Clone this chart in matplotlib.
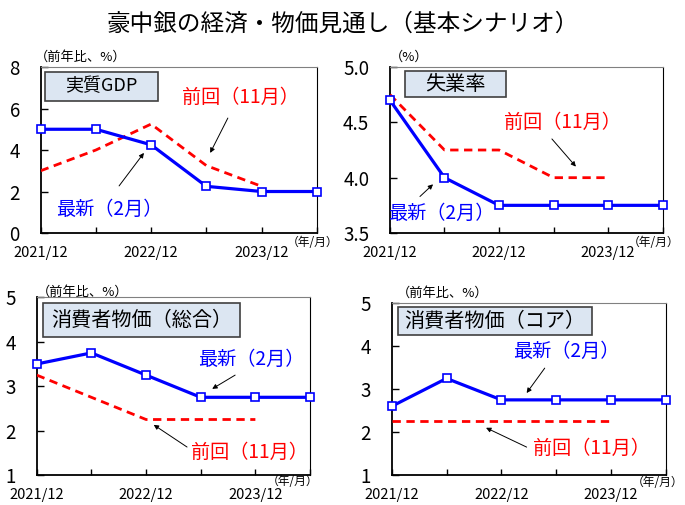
import matplotlib
matplotlib.use("Agg")
import matplotlib.pyplot as plt
from matplotlib.patches import Rectangle

plt.rcParams["font.family"] = ["Noto Sans CJK JP", "DejaVu Sans"]

periods = ["2021/12", "2022/6", "2022/12", "2023/6", "2023/12", "2024/6"]
tick_labels = ["2021/12", "", "2022/12", "", "2023/12", ""]

gdp_latest = [5.0, 5.0, 4.25, 2.25, 2.0, 2.0]
gdp_prev = [3.0, 4.0, 5.25, 3.25, 2.25]

unemp_latest = [4.7, 4.0, 3.75, 3.75, 3.75, 3.75]
unemp_prev = [4.75, 4.25, 4.25, 4.0, 4.0]

cpi_latest = [3.5, 3.75, 3.25, 2.75, 2.75, 2.75]
cpi_prev = [3.25, 2.75, 2.25, 2.25, 2.25]

core_latest = [2.6, 3.25, 2.75, 2.75, 2.75, 2.75]
core_prev = [2.25, 2.25, 2.25, 2.25, 2.25]

BLUE = "#0000ff"
RED = "#ff0000"

fig = plt.figure(figsize=(6.85, 5.05), dpi=100)
fig.text(0.5, 0.952, "豪中銀の経済・物価見通し（基本シナリオ）", ha="center", va="center", fontsize=17)

panels = [
    dict(pos=[0.0594, 0.5386, 0.403, 0.3287], latest=gdp_latest, prev=gdp_prev,
         ylim=(0, 8), yticks=[0, 2, 4, 6, 8], yfmt="{:.0f}", title="実質GDP", title_fs=13,
         box=(0.0156, 0.795, 0.409, 0.175), unit="（前年比、%）", unit_xy=(-0.02, 1.06),
         ym_xy=(1.077, -0.06),
         prev_text=(3.61, 6.55), prev_arrow=((3.39, 5.54), (3.07, 3.86)),
         new_text=(1.25, 1.16), new_arrow=((1.42, 2.27), (1.87, 3.86))),
    dict(pos=[0.5693, 0.5386, 0.398, 0.3287], latest=unemp_latest, prev=unemp_prev,
         ylim=(3.5, 5.0), yticks=[3.5, 4.0, 4.5, 5.0], yfmt="{:.1f}", title="失業率", title_fs=14.5,
         box=(0.055, 0.819, 0.370, 0.157), unit="（%）", unit_xy=(0.0, 1.06),
         ym_xy=(1.063, -0.06),
         prev_text=(3.16, 4.50), prev_arrow=((2.97, 4.35), (3.41, 4.10)),
         new_text=(0.94, 3.68), new_arrow=((0.55, 3.83), (0.79, 3.94))),
    dict(pos=[0.0536, 0.0594, 0.399, 0.3517], latest=cpi_latest, prev=cpi_prev,
         ylim=(1, 5), yticks=[1, 2, 3, 4, 5], yfmt="{:.0f}", title="消費者物価（総合）", title_fs=14.5,
         box=(0.023, 0.777, 0.721, 0.191), unit="（前年比、%）", unit_xy=(0.0, 1.03),
         ym_xy=(1.03, -0.035),
         prev_text=(3.90, 1.52), prev_arrow=((2.75, 1.63), (2.14, 2.13)),
         new_text=(3.92, 3.61), new_arrow=((3.63, 3.25), (3.21, 2.94))),
    dict(pos=[0.5718, 0.0594, 0.4004, 0.340], latest=core_latest, prev=core_prev,
         ylim=(1, 5), yticks=[1, 2, 3, 4, 5], yfmt="{:.0f}", title="消費者物価（コア）", title_fs=14.5,
         box=(0.023, 0.815, 0.707, 0.163), unit="（前年比、%）", unit_xy=(0.02, 1.06),
         ym_xy=(1.062, -0.045),
         prev_text=(3.65, 1.63), prev_arrow=((2.46, 1.65), (1.72, 2.10)),
         new_text=(3.18, 3.87), new_arrow=((2.79, 3.49), (2.46, 2.91))),
]

for p in panels:
    ax = fig.add_axes(p["pos"])
    x_all = list(range(len(periods)))
    x_prev = x_all[:len(p["prev"])]

    ax.plot(x_prev, p["prev"], color=RED, lw=2.0, ls=(0, (3, 2)), zorder=3)
    ax.plot(x_all, p["latest"], color=BLUE, lw=2.3, marker="s", ms=6,
            mfc="white", mec=BLUE, mew=1.2, zorder=4, clip_on=False)

    ax.set_xlim(0, len(periods) - 1)
    ax.set_ylim(*p["ylim"])
    ax.set_xticks(x_all)
    ax.set_xticklabels(tick_labels, fontsize=10.5)
    ax.set_yticks(p["yticks"])
    ax.set_yticklabels([p["yfmt"].format(v) for v in p["yticks"]], fontsize=13.5)
    ax.tick_params(axis="x", direction="in", length=4, width=1, pad=9)
    ax.tick_params(axis="y", direction="in", length=5, width=1, pad=15)

    for side in ["left", "bottom"]:
        ax.spines[side].set_linewidth(1.3)
        ax.spines[side].set_color("black")
    ax.spines["top"].set_color("#808080")
    ax.spines["right"].set_color("black")

    bx, by, bw, bh = p["box"]
    ax.add_patch(Rectangle((bx, by), bw, bh, transform=ax.transAxes,
                           facecolor="#dce6f2", edgecolor="#404040", lw=1.2, zorder=5))
    ax.text(bx + bw / 2, by + bh / 2, p["title"], transform=ax.transAxes,
            ha="center", va="center", fontsize=p["title_fs"], zorder=6)

    ax.text(p["unit_xy"][0], p["unit_xy"][1], p["unit"], transform=ax.transAxes,
            ha="left", va="center", fontsize=9.5)
    ax.text(p["ym_xy"][0], p["ym_xy"][1], "（年/月）", transform=ax.transAxes,
            ha="right", va="center", fontsize=8.5, clip_on=False)

    ax.text(*p["prev_text"], "前回（11月）", color=RED, fontsize=13.8, ha="center", va="center")
    ax.text(*p["new_text"], "最新（2月）", color=BLUE, fontsize=13.8, ha="center", va="center")
    for start, end in [p["prev_arrow"], p["new_arrow"]]:
        ax.annotate("", xy=end, xytext=start,
                    arrowprops=dict(arrowstyle="-|>", color="black", lw=0.7,
                                    mutation_scale=7, shrinkA=0, shrinkB=0))

fig.savefig("out.png", dpi=100)
